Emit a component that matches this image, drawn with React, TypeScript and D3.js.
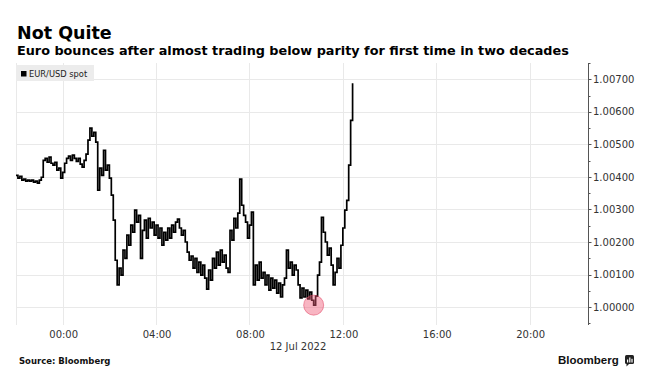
import * as d3 from "d3";
import React from "react";

// EUR/USD spot, 5-minute samples starting 11 Jul 2022 22:00
const startTime = new Date(2022, 6, 11, 22, 0);
const stepMinutes = 5;
const spotValues = [
  1.00405, 1.00396, 1.00402, 1.0039, 1.00393, 1.00387, 1.0039, 1.00387, 1.0039, 1.00384,
  1.00387, 1.00381, 1.0039, 1.00399, 1.00451, 1.00457, 1.00445, 1.00461, 1.00442, 1.00436,
  1.00445, 1.00421, 1.00427, 1.00396, 1.00414, 1.00442, 1.00457, 1.00464, 1.00451, 1.00467,
  1.00457, 1.00448, 1.00457, 1.00439, 1.0043, 1.00451, 1.0047, 1.00513, 1.0055, 1.00525,
  1.00537, 1.00507, 1.00359, 1.00427, 1.00405, 1.00482, 1.00421, 1.00436, 1.00396, 1.00344,
  1.00267, 1.00144, 1.00068, 1.0012, 1.00098, 1.00175, 1.0015, 1.00221, 1.0019, 1.00252,
  1.0023, 1.00298, 1.00261, 1.00282, 1.0015, 1.00236, 1.00267, 1.00212, 1.00273, 1.00243,
  1.00261, 1.00221, 1.00252, 1.00212, 1.00243, 1.0019, 1.0023, 1.00206, 1.00243, 1.00212,
  1.00252, 1.0023, 1.00261, 1.0027, 1.00243, 1.00221, 1.00236, 1.002, 1.00169, 1.00144,
  1.00157, 1.0012, 1.0015, 1.00107, 1.00138, 1.00098, 1.00129, 1.00089, 1.00055, 1.00114,
  1.00083, 1.0015, 1.0012, 1.00169, 1.00129, 1.00175, 1.00138, 1.0016, 1.0012, 1.00107,
  1.00236, 1.00206, 1.00273, 1.00243, 1.00289, 1.00393, 1.00313, 1.00282, 1.00261, 1.00212,
  1.00252, 1.00292, 1.00068, 1.00129, 1.00083, 1.00138, 1.00089, 1.00107, 1.00068, 1.00098,
  1.00052, 1.00089, 1.00058, 1.00083, 1.00043, 1.00074, 1.00031, 1.00068, 1.00089, 1.00175,
  1.0012, 1.00138, 1.00098, 1.00129, 1.00114, 1.00068, 1.00028, 1.00058, 1.00031, 1.00052,
  1.00025, 1.00046, 1.00021, 1.00006, 1.00034, 1.00098, 1.00138, 1.00276, 1.0023, 1.002,
  1.0016, 1.00181, 1.00129, 1.00068, 1.00107, 1.0015, 1.0012, 1.0019, 1.00243, 1.00298,
  1.00328, 1.00436, 1.00574, 1.00688,
];
const yTicks = [1.0, 1.001, 1.002, 1.003, 1.004, 1.005, 1.006, 1.007];
const xTickLabels = ["00:00", "04:00", "08:00", "12:00", "16:00", "20:00"];

const width = 650;
const height = 385;
const left = 16;
const right = 588;
const top = 63;
const bottom = 325;
const fontFamily = "'DejaVu Sans', Verdana, sans-serif";

const App: React.FC = () => {
  const data = spotValues.map((v, i) => ({
    t: d3.timeMinute.offset(startTime, i * stepMinutes),
    v,
  }));

  const x = d3
    .scaleTime()
    .domain([new Date(2022, 6, 11, 22, 0), new Date(2022, 6, 12, 22, 30)])
    .range([left, right]);
  const y = d3.scaleLinear().domain([0.99945, 1.0075]).range([bottom, top]);

  const xTicks = d3.timeHour.every(4)!.range(new Date(2022, 6, 12, 0, 0), new Date(2022, 6, 12, 22, 0));
  const minorTicks = d3.range(0.9995, 1.0076, 0.0005);
  const fmtHour = d3.timeFormat("%H:%M");

  const line = d3
    .line<{ t: Date; v: number }>()
    .x((d) => x(d.t))
    .y((d) => y(d.v))
    .curve(d3.curveStepAfter);

  const low = data.reduce((a, b) => (b.v < a.v ? b : a));

  return (
    <svg
      width={width}
      height={height}
      style={{ position: "absolute", left: 0, top: 0, background: "#fff" }}
    >
      <text x={17} y={39} fontFamily={fontFamily} fontWeight="bold" fontSize={17.5} fill="#000">
        Not Quite
      </text>
      <text x={17} y={55} fontFamily={fontFamily} fontWeight="bold" fontSize={12.8} fill="#000">
        Euro bounces after almost trading below parity for first time in two decades
      </text>

      {/* grid */}
      <g stroke="#e9e9e9" strokeWidth={1}>
        {yTicks.map((t) => (
          <line key={t} x1={left} x2={right} y1={Math.round(y(t)) + 0.5} y2={Math.round(y(t)) + 0.5} />
        ))}
        <line x1={left + 0.5} x2={left + 0.5} y1={top} y2={bottom} />
        {xTicks.map((t) => (
          <line key={+t} x1={Math.round(x(t)) + 0.5} x2={Math.round(x(t)) + 0.5} y1={top} y2={bottom} />
        ))}
      </g>

      {/* legend */}
      <rect x={16} y={65} width={78} height={16} fill="#ececec" />
      <rect x={21} y={71} width={5.5} height={5.5} fill="#000" />
      <text x={29} y={77} fontFamily={fontFamily} fontSize={8.3} fill="#222">
        EUR/USD spot
      </text>

      {/* series */}
      <path d={line(data) ?? ""} fill="none" stroke="#000" strokeWidth={1.7} strokeLinejoin="miter" />
      <circle
        cx={x(low.t)}
        cy={y(low.v)}
        r={10}
        fill="rgba(240, 90, 120, 0.45)"
        stroke="rgba(225, 70, 100, 0.55)"
        strokeWidth={1}
      />

      {/* y axis */}
      <g>
        <line x1={right + 0.5} x2={right + 0.5} y1={top} y2={bottom} stroke="#555" />
        {minorTicks.map((t) => (
          <line key={t} x1={right} x2={right + 2.5} y1={Math.round(y(t)) + 0.5} y2={Math.round(y(t)) + 0.5} stroke="#555" />
        ))}
        {yTicks.map((t) => (
          <g key={t}>
            <line x1={right} x2={right + 3.5} y1={Math.round(y(t)) + 0.5} y2={Math.round(y(t)) + 0.5} stroke="#555" />
            <text x={593} y={y(t) + 3.6} fontFamily={fontFamily} fontSize={10} fill="#333">
              {d3.format(".5f")(t)}
            </text>
          </g>
        ))}
      </g>

      {/* x axis labels */}
      {xTicks.map((t, i) => (
        <text key={+t} x={x(t) + 1} y={338} textAnchor="middle" fontFamily={fontFamily} fontSize={10} fill="#333">
          {xTickLabels[i] ?? fmtHour(t)}
        </text>
      ))}
      <text x={298} y={350} textAnchor="middle" fontFamily={fontFamily} fontSize={10} fill="#333">
        12 Jul 2022
      </text>

      {/* footer */}
      <text x={19} y={364} fontFamily={fontFamily} fontWeight="bold" fontSize={8.5} fill="#111">
        Source: Bloomberg
      </text>
      <text x={558} y={364} fontFamily="'Liberation Sans', Arial, sans-serif" fontWeight="bold" fontSize={11.5} fill="#111">
        Bloomberg
      </text>
      <g>
        <rect x={625} y={355} width={9} height={9} rx={1.5} fill="#222" />
        <path d="M626.5,364 L626.5,366.5 L629,364 Z" fill="#222" />
        <rect x={627} y={359.5} width={1.2} height={3} fill="#fff" />
        <rect x={629.2} y={357.5} width={1.2} height={5} fill="#fff" />
        <rect x={631.4} y={358.8} width={1.2} height={3.7} fill="#fff" />
      </g>
    </svg>
  );
};

export default App;
